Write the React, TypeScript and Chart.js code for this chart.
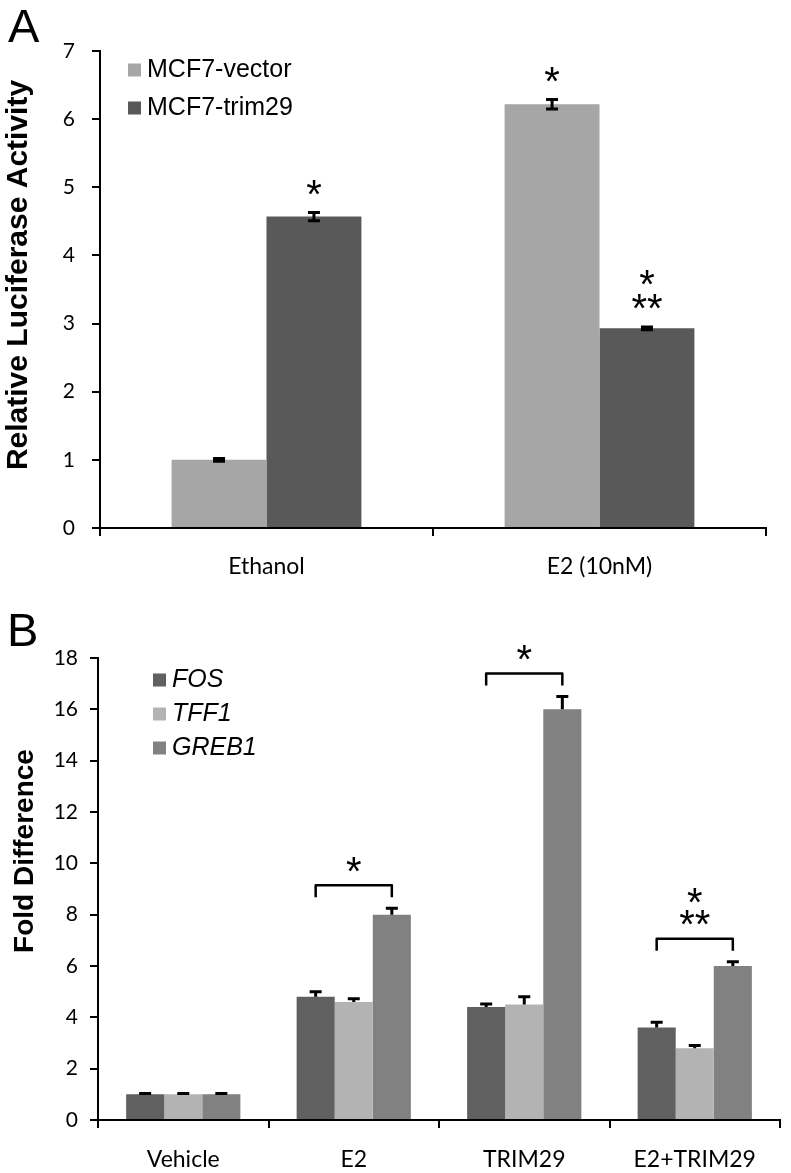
import React, { useEffect, useRef } from "react";
import { Chart, registerables } from "chart.js";

Chart.register(...registerables);

// ---------- Panel A data ----------
const categoriesA = ["Ethanol", "E2 (10nM)"];
const seriesNamesA = ["MCF7-vector", "MCF7-trim29"];
const vectorValues = [1.0, 6.22];
const vectorErrors = [0.02, 0.07];
const trim29Values = [4.57, 2.93];
const trim29Errors = [0.06, 0.02];
const vectorStars = ["", "*"];
const trim29Stars = ["*", "*\n**"];
const yTicksA = [0, 1, 2, 3, 4, 5, 6, 7];
const yTitleA = "Relative Luciferase Activity";

// ---------- Panel B data ----------
const categoriesB = ["Vehicle", "E2", "TRIM29", "E2+TRIM29"];
const seriesNamesB = ["FOS", "TFF1", "GREB1"];
const fosValues = [1.0, 4.8, 4.4, 3.6];
const fosErrors = [0.03, 0.2, 0.12, 0.21];
const tff1Values = [1.0, 4.6, 4.5, 2.8];
const tff1Errors = [0.03, 0.12, 0.3, 0.1];
const greb1Values = [1.0, 8.0, 16.0, 6.0];
const greb1Errors = [0.03, 0.25, 0.5, 0.17];
const bracketStarsB = ["", "*", "*", "*\n**"];
const yTicksB = [0, 2, 4, 6, 8, 10, 12, 14, 16, 18];
const yTitleB = "Fold Difference";

const colorsA = ["#a6a6a6", "#595959"];
const colorsB = ["#606060", "#b3b3b3", "#818181"];

const ARIAL = '"Liberation Sans", Arial, sans-serif';
const TICKFONT = 'Lato, "Open Sans", sans-serif';

function drawCenteredGlyph(ctx: CanvasRenderingContext2D, text: string, cx: number, cy: number, size: number) {
  ctx.font = `${size}px ${ARIAL}`;
  ctx.textAlign = "center";
  ctx.textBaseline = "alphabetic";
  const m = ctx.measureText(text);
  const base = cy + (m.actualBoundingBoxAscent - m.actualBoundingBoxDescent) / 2;
  ctx.fillText(text, cx, base);
}

function drawStack(ctx: CanvasRenderingContext2D, label: string, cx: number, bottomCy: number, spacing: number, size: number) {
  if (!label) return;
  const lines = label.split("\n");
  lines.forEach((t, k) => {
    const cy = bottomCy - (lines.length - 1 - k) * spacing;
    drawCenteredGlyph(ctx, t, cx, cy, size);
  });
}

function drawRotatedTitle(ctx: CanvasRenderingContext2D, text: string, baselineX: number, centerY: number, size: number) {
  ctx.save();
  ctx.translate(baselineX, centerY);
  ctx.rotate(-Math.PI / 2);
  ctx.font = `bold ${size}px ${ARIAL}`;
  ctx.fillStyle = "#000";
  ctx.textAlign = "center";
  ctx.textBaseline = "alphabetic";
  ctx.fillText(text, 0, 0);
  ctx.restore();
}

const panelAPlugin = {
  id: "panelA",
  afterDatasetsDraw(chart: any) {
    const ctx: CanvasRenderingContext2D = chart.ctx;
    const y = chart.scales.y;
    const vals = [vectorValues, trim29Values];
    const errs = [vectorErrors, trim29Errors];
    const stars = [vectorStars, trim29Stars];
    ctx.save();
    ctx.strokeStyle = "#000";
    ctx.fillStyle = "#000";
    ctx.lineWidth = 3;
    for (let d = 0; d < vals.length; d++) {
      const meta = chart.getDatasetMeta(d);
      meta.data.forEach((bar: any, j: number) => {
        const x = bar.x;
        const top = y.getPixelForValue(vals[d][j] + errs[d][j]);
        const bot = y.getPixelForValue(vals[d][j] - errs[d][j]);
        ctx.beginPath();
        ctx.moveTo(x, top);
        ctx.lineTo(x, bot);
        ctx.moveTo(x - 6, top);
        ctx.lineTo(x + 6, top);
        ctx.moveTo(x - 6, bot);
        ctx.lineTo(x + 6, bot);
        ctx.stroke();
        drawStack(ctx, stars[d][j], x, top - 25, 24, 40);
      });
    }
    ctx.restore();
  },
  afterDraw(chart: any) {
    const ctx: CanvasRenderingContext2D = chart.ctx;
    ctx.save();
    ctx.fillStyle = "#000";
    ctx.font = `47px ${ARIAL}`;
    ctx.textAlign = "left";
    ctx.textBaseline = "alphabetic";
    ctx.fillText("A", 8, 42);
    const legY = [70, 108];
    seriesNamesA.forEach((name, i) => {
      ctx.fillStyle = colorsA[i];
      ctx.fillRect(128, legY[i] - 6.5, 13, 13);
      ctx.fillStyle = "#000";
      ctx.font = `25px ${ARIAL}`;
      ctx.textAlign = "left";
      ctx.textBaseline = "middle";
      ctx.fillText(name, 147, legY[i]);
    });
    ctx.restore();
    drawRotatedTitle(ctx, yTitleA, 27, 275, 30);
  },
};

const panelBPlugin = {
  id: "panelB",
  afterDatasetsDraw(chart: any) {
    const ctx: CanvasRenderingContext2D = chart.ctx;
    const y = chart.scales.y;
    const vals = [fosValues, tff1Values, greb1Values];
    const errs = [fosErrors, tff1Errors, greb1Errors];
    ctx.save();
    ctx.strokeStyle = "#000";
    ctx.fillStyle = "#000";
    ctx.lineWidth = 3;
    for (let d = 0; d < vals.length; d++) {
      const meta = chart.getDatasetMeta(d);
      meta.data.forEach((bar: any, j: number) => {
        const x = bar.x;
        const top = y.getPixelForValue(vals[d][j] + errs[d][j]);
        const base = y.getPixelForValue(vals[d][j]);
        ctx.beginPath();
        ctx.moveTo(x, base);
        ctx.lineTo(x, top);
        ctx.moveTo(x - 6, top);
        ctx.lineTo(x + 6, top);
        ctx.stroke();
      });
    }
    const metaFirst = chart.getDatasetMeta(0);
    const metaLast = chart.getDatasetMeta(2);
    ctx.lineWidth = 2.5;
    ctx.lineJoin = "round";
    bracketStarsB.forEach((label, j) => {
      if (!label) return;
      let maxTop = Infinity;
      for (let d = 0; d < vals.length; d++) {
        maxTop = Math.min(maxTop, y.getPixelForValue(vals[d][j] + errs[d][j]));
      }
      const by = maxTop - 23;
      const x1 = metaFirst.data[j].x;
      const x2 = metaLast.data[j].x;
      ctx.beginPath();
      ctx.moveTo(x1, by + 12);
      ctx.lineTo(x1, by);
      ctx.lineTo(x2, by);
      ctx.lineTo(x2, by + 12);
      ctx.stroke();
      drawStack(ctx, label, (x1 + x2) / 2, by - 21, 22, 40);
    });
    ctx.restore();
  },
  afterDraw(chart: any) {
    const ctx: CanvasRenderingContext2D = chart.ctx;
    ctx.save();
    ctx.fillStyle = "#000";
    ctx.font = `47px ${ARIAL}`;
    ctx.textAlign = "left";
    ctx.textBaseline = "alphabetic";
    ctx.fillText("B", 7, 56);
    const legY = [90, 124, 158];
    seriesNamesB.forEach((name, i) => {
      ctx.fillStyle = colorsB[i];
      ctx.fillRect(153, legY[i] - 6.5, 13, 13);
      ctx.fillStyle = "#000";
      ctx.font = `italic 25px ${ARIAL}`;
      ctx.textAlign = "left";
      ctx.textBaseline = "middle";
      ctx.fillText(name, 172, legY[i]);
    });
    ctx.restore();
    drawRotatedTitle(ctx, yTitleB, 33, 261, 28);
  },
};

function axisCommon() {
  return {
    grid: {
      display: true,
      drawOnChartArea: false,
      drawTicks: true,
      tickLength: 8,
      color: "#000",
      lineWidth: 2,
    },
    border: { display: true, color: "#000", width: 2 },
  };
}

function makeConfigA(): any {
  return {
    type: "bar",
    data: {
      labels: categoriesA,
      datasets: [
        { label: seriesNamesA[0], data: vectorValues, backgroundColor: colorsA[0], borderWidth: 0 },
        { label: seriesNamesA[1], data: trim29Values, backgroundColor: colorsA[1], borderWidth: 0 },
      ],
    },
    options: {
      responsive: false,
      animation: false,
      devicePixelRatio: 1,
      layout: { padding: { top: 51, right: 25, left: 0, bottom: 0 } },
      datasets: { bar: { categoryPercentage: 0.57, barPercentage: 1.0 } },
      plugins: { legend: { display: false }, tooltip: { enabled: false } },
      scales: {
        x: {
          ...axisCommon(),
          z: 1,
          grid: { ...axisCommon().grid, offset: true },
          ticks: { font: { family: TICKFONT, size: 23 }, color: "#000", padding: 17 },
          afterFit: (s: any) => { s.height = 62; },
        },
        y: {
          ...axisCommon(),
          z: 1,
          min: 0,
          max: 7,
          afterBuildTicks: (s: any) => { s.ticks = yTicksA.map((v) => ({ value: v })); },
          ticks: { font: { family: TICKFONT, size: 21 }, color: "#000", padding: 17 },
          afterFit: (s: any) => { s.width = 100; },
        },
      },
    },
    plugins: [panelAPlugin],
  };
}

function makeConfigB(): any {
  return {
    type: "bar",
    data: {
      labels: categoriesB,
      datasets: [
        { label: seriesNamesB[0], data: fosValues, backgroundColor: colorsB[0], borderWidth: 0 },
        { label: seriesNamesB[1], data: tff1Values, backgroundColor: colorsB[1], borderWidth: 0 },
        { label: seriesNamesB[2], data: greb1Values, backgroundColor: colorsB[2], borderWidth: 0 },
      ],
    },
    options: {
      responsive: false,
      animation: false,
      devicePixelRatio: 1,
      layout: { padding: { top: 68, right: 11, left: 0, bottom: 0 } },
      datasets: { bar: { categoryPercentage: 0.67, barPercentage: 1.0 } },
      plugins: { legend: { display: false }, tooltip: { enabled: false } },
      scales: {
        x: {
          ...axisCommon(),
          z: 1,
          grid: { ...axisCommon().grid, offset: true },
          ticks: { font: { family: TICKFONT, size: 23 }, color: "#000", padding: 18 },
          afterFit: (s: any) => { s.height = 53; },
        },
        y: {
          ...axisCommon(),
          z: 1,
          min: 0,
          max: 18,
          afterBuildTicks: (s: any) => { s.ticks = yTicksB.map((v) => ({ value: v })); },
          ticks: { font: { family: TICKFONT, size: 21 }, color: "#000", padding: 12 },
          afterFit: (s: any) => { s.width = 98; },
        },
      },
    },
    plugins: [panelBPlugin],
  };
}

export default function App() {
  const refA = useRef<HTMLCanvasElement>(null);
  const refB = useRef<HTMLCanvasElement>(null);
  useEffect(() => {
    const a = new Chart(refA.current as HTMLCanvasElement, makeConfigA());
    const b = new Chart(refB.current as HTMLCanvasElement, makeConfigB());
    return () => {
      a.destroy();
      b.destroy();
    };
  }, []);
  return (
    <div style={{ position: "absolute", left: 0, top: 0, width: 791, height: 1173, background: "#fff" }}>
      <canvas ref={refA} width={791} height={590} style={{ position: "absolute", left: 0, top: 0, width: 791, height: 590 }} />
      <canvas ref={refB} width={791} height={583} style={{ position: "absolute", left: 0, top: 590, width: 791, height: 583 }} />
    </div>
  );
}
